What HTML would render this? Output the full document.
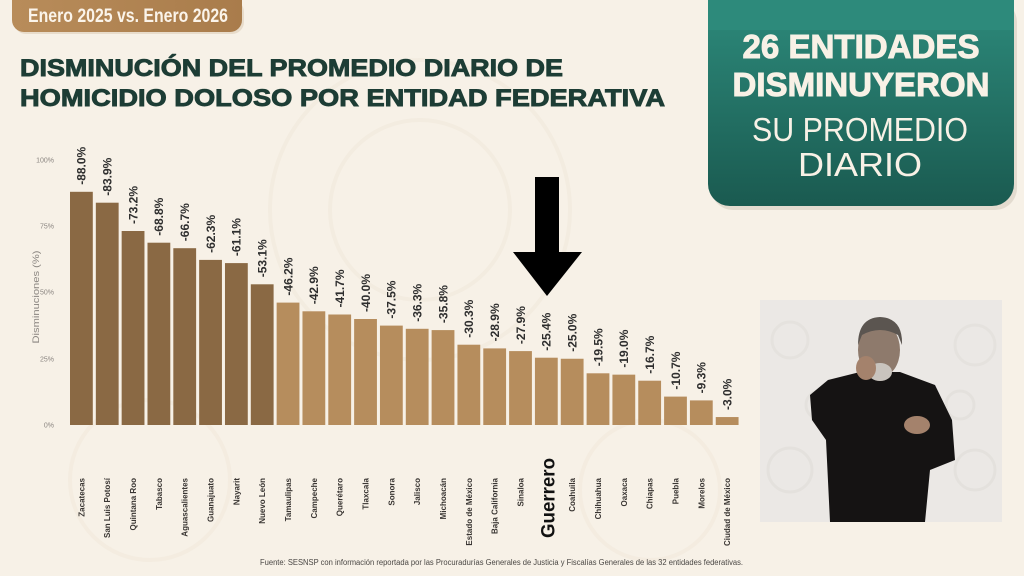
<!DOCTYPE html>
<html>
<head>
<meta charset="utf-8">
<style>
  html,body{margin:0;padding:0;background:#f7f1e7;width:1024px;height:576px;overflow:hidden;}
  svg{display:block;}
  text{font-family:"Liberation Sans",sans-serif;}
</style>
</head>
<body>
<svg width="1024" height="576" viewBox="0 0 1024 576" xmlns="http://www.w3.org/2000/svg">
  <defs>
    <linearGradient id="teal" x1="0" y1="0" x2="0" y2="1">
      <stop offset="0" stop-color="#2d8a7b"/>
      <stop offset="1" stop-color="#1a5a50"/>
    </linearGradient>
    <linearGradient id="badge" x1="0" y1="0" x2="1" y2="0">
      <stop offset="0" stop-color="#b88c5a"/>
      <stop offset="1" stop-color="#a97c4b"/>
    </linearGradient>
  </defs>
  <rect x="0" y="0" width="1024" height="576" fill="#f7f1e7"/>
  <!-- faint background swirls -->
  <g fill="none" stroke="#f1e9dc" stroke-width="4" opacity="0.6">
    <circle cx="420" cy="210" r="150"/>
    <circle cx="420" cy="210" r="90"/>
    <circle cx="150" cy="480" r="80"/>
    <circle cx="650" cy="490" r="70"/>
  </g>

  <!-- header badge -->
  <rect x="14" y="0" width="230" height="34" rx="12" fill="#d9c8b0" opacity="0.5"/>
  <rect x="12" y="0" width="230" height="32" rx="12" fill="url(#badge)"/>
  <rect x="12" y="0" width="230" height="14" fill="url(#badge)"/>
  <text x="28" y="22" font-size="19" font-weight="bold" fill="#fbf4ea" textLength="200" lengthAdjust="spacingAndGlyphs">Enero 2025 vs. Enero 2026</text>

  <!-- title -->
  <text x="20" y="76" font-size="24" font-weight="bold" fill="#1d3d35" textLength="543" lengthAdjust="spacingAndGlyphs" stroke="#1d3d35" stroke-width="0.9">DISMINUCIÓN DEL PROMEDIO DIARIO DE</text>
  <text x="20" y="106" font-size="24" font-weight="bold" fill="#1d3d35" textLength="645" lengthAdjust="spacingAndGlyphs" stroke="#1d3d35" stroke-width="0.9">HOMICIDIO DOLOSO POR ENTIDAD FEDERATIVA</text>

  <!-- teal panel -->
  <rect x="711" y="0" width="306" height="210" rx="22" fill="#cfc6b8" opacity="0.5"/>
  <rect x="708" y="0" width="306" height="206" rx="22" fill="url(#teal)"/>
  <rect x="708" y="0" width="306" height="30" fill="#2d8a7b"/>
  <g fill="#f8f1e6" text-anchor="middle">
    <text x="861" y="58" font-size="33" font-weight="bold" textLength="237" lengthAdjust="spacingAndGlyphs" stroke="#f8f1e6" stroke-width="1">26 ENTIDADES</text>
    <text x="861" y="96" font-size="33" font-weight="bold" textLength="257" lengthAdjust="spacingAndGlyphs" stroke="#f8f1e6" stroke-width="1">DISMINUYERON</text>
    <text x="860" y="141" font-size="33" textLength="216" lengthAdjust="spacingAndGlyphs">SU PROMEDIO</text>
    <text x="860" y="176" font-size="33" textLength="124" lengthAdjust="spacingAndGlyphs">DIARIO</text>
  </g>

  <!-- y axis -->
  <g font-size="7" fill="#8a8580" text-anchor="end">
    <text x="54" y="162.5">100%</text>
    <text x="54" y="228.5">75%</text>
    <text x="54" y="294.5">50%</text>
    <text x="54" y="361.5">25%</text>
    <text x="54" y="427.5">0%</text>
  </g>
  <text transform="translate(39,297) rotate(-90)" font-size="9" fill="#8a8580" text-anchor="middle" textLength="93" lengthAdjust="spacingAndGlyphs">Disminuciones (%)</text>

  <!-- bars -->
  <g fill="#8a6944">
    <rect x="70.00" y="191.8" width="22.8" height="233.2"/>
    <rect x="95.83" y="202.7" width="22.8" height="222.3"/>
    <rect x="121.66" y="231.0" width="22.8" height="194.0"/>
    <rect x="147.49" y="242.7" width="22.8" height="182.3"/>
    <rect x="173.32" y="248.2" width="22.8" height="176.8"/>
    <rect x="199.15" y="259.9" width="22.8" height="165.1"/>
    <rect x="224.98" y="263.1" width="22.8" height="161.9"/>
    <rect x="250.81" y="284.3" width="22.8" height="140.7"/>
  </g>
  <g fill="#b68d5d">
    <rect x="276.64" y="302.6" width="22.8" height="122.4"/>
    <rect x="302.47" y="311.3" width="22.8" height="113.7"/>
    <rect x="328.30" y="314.5" width="22.8" height="110.5"/>
    <rect x="354.13" y="319.0" width="22.8" height="106.0"/>
    <rect x="379.96" y="325.6" width="22.8" height="99.4"/>
    <rect x="405.79" y="328.8" width="22.8" height="96.2"/>
    <rect x="431.62" y="330.1" width="22.8" height="94.9"/>
    <rect x="457.45" y="344.7" width="22.8" height="80.3"/>
    <rect x="483.28" y="348.4" width="22.8" height="76.6"/>
    <rect x="509.11" y="351.1" width="22.8" height="73.9"/>
    <rect x="534.94" y="357.7" width="22.8" height="67.3"/>
    <rect x="560.77" y="358.75" width="22.8" height="66.25"/>
    <rect x="586.60" y="373.3" width="22.8" height="51.7"/>
    <rect x="612.43" y="374.65" width="22.8" height="50.35"/>
    <rect x="638.26" y="380.7" width="22.8" height="44.3"/>
    <rect x="664.09" y="396.6" width="22.8" height="28.4"/>
    <rect x="689.92" y="400.4" width="22.8" height="24.6"/>
    <rect x="715.75" y="417.05" width="22.8" height="7.95"/>
  </g>

  <!-- value labels -->
  <g font-size="12" font-weight="bold" fill="#2e2e2e">
    <text transform="translate(85.7,184.8) rotate(-90)">-88.0%</text>
    <text transform="translate(111.5,195.7) rotate(-90)">-83.9%</text>
    <text transform="translate(137.4,224.0) rotate(-90)">-73.2%</text>
    <text transform="translate(163.2,235.7) rotate(-90)">-68.8%</text>
    <text transform="translate(189.0,241.2) rotate(-90)">-66.7%</text>
    <text transform="translate(214.9,252.9) rotate(-90)">-62.3%</text>
    <text transform="translate(240.7,256.1) rotate(-90)">-61.1%</text>
    <text transform="translate(266.5,277.3) rotate(-90)">-53.1%</text>
    <text transform="translate(292.3,295.6) rotate(-90)">-46.2%</text>
    <text transform="translate(318.2,304.3) rotate(-90)">-42.9%</text>
    <text transform="translate(344.0,307.5) rotate(-90)">-41.7%</text>
    <text transform="translate(369.8,312.0) rotate(-90)">-40.0%</text>
    <text transform="translate(395.7,318.6) rotate(-90)">-37.5%</text>
    <text transform="translate(421.5,321.8) rotate(-90)">-36.3%</text>
    <text transform="translate(447.3,323.1) rotate(-90)">-35.8%</text>
    <text transform="translate(473.2,337.7) rotate(-90)">-30.3%</text>
    <text transform="translate(499.0,341.4) rotate(-90)">-28.9%</text>
    <text transform="translate(524.8,344.1) rotate(-90)">-27.9%</text>
    <text transform="translate(550.6,350.7) rotate(-90)">-25.4%</text>
    <text transform="translate(576.5,351.75) rotate(-90)">-25.0%</text>
    <text transform="translate(602.3,366.3) rotate(-90)">-19.5%</text>
    <text transform="translate(628.1,367.65) rotate(-90)">-19.0%</text>
    <text transform="translate(654.0,373.7) rotate(-90)">-16.7%</text>
    <text transform="translate(679.8,389.6) rotate(-90)">-10.7%</text>
    <text transform="translate(705.6,393.4) rotate(-90)">-9.3%</text>
    <text transform="translate(731.5,410.05) rotate(-90)">-3.0%</text>
  </g>

  <!-- category labels -->
  <g font-size="8" font-weight="bold" fill="#3a3633" text-anchor="end">
    <text transform="translate(84.4,478) rotate(-90)">Zacatecas</text>
    <text transform="translate(110.2,478) rotate(-90)">San Luis Potosí</text>
    <text transform="translate(136.1,478) rotate(-90)">Quintana Roo</text>
    <text transform="translate(161.9,478) rotate(-90)">Tabasco</text>
    <text transform="translate(187.7,478) rotate(-90)">Aguascalientes</text>
    <text transform="translate(213.6,478) rotate(-90)">Guanajuato</text>
    <text transform="translate(239.4,478) rotate(-90)">Nayarit</text>
    <text transform="translate(265.2,478) rotate(-90)">Nuevo León</text>
    <text transform="translate(291.0,478) rotate(-90)">Tamaulipas</text>
    <text transform="translate(316.9,478) rotate(-90)">Campeche</text>
    <text transform="translate(342.7,478) rotate(-90)">Querétaro</text>
    <text transform="translate(368.5,478) rotate(-90)">Tlaxcala</text>
    <text transform="translate(394.4,478) rotate(-90)">Sonora</text>
    <text transform="translate(420.2,478) rotate(-90)">Jalisco</text>
    <text transform="translate(446.0,478) rotate(-90)">Michoacán</text>
    <text transform="translate(471.9,478) rotate(-90)">Estado de México</text>
    <text transform="translate(497.7,478) rotate(-90)">Baja California</text>
    <text transform="translate(523.5,478) rotate(-90)">Sinaloa</text>
    <text transform="translate(575.2,478) rotate(-90)">Coahuila</text>
    <text transform="translate(601.0,478) rotate(-90)">Chihuahua</text>
    <text transform="translate(626.8,478) rotate(-90)">Oaxaca</text>
    <text transform="translate(652.7,478) rotate(-90)">Chiapas</text>
    <text transform="translate(678.5,478) rotate(-90)">Puebla</text>
    <text transform="translate(704.3,478) rotate(-90)">Morelos</text>
    <text transform="translate(730.2,478) rotate(-90)">Ciudad de México</text>
  </g>
  <text transform="translate(554.5,538) rotate(-90)" font-size="19" font-weight="bold" fill="#111" textLength="80" lengthAdjust="spacingAndGlyphs">Guerrero</text>

  <!-- arrow -->
  <polygon points="535,177 559,177 559,252 582,252 547,296 513,252 535,252" fill="#000"/>

  <!-- footer -->
  <text x="260" y="565" font-size="8" fill="#4a4744" textLength="483" lengthAdjust="spacingAndGlyphs">Fuente: SESNSP con información reportada por las Procuradurías Generales de Justicia y Fiscalías Generales de las 32 entidades federativas.</text>

  <!-- video inset -->
  <rect x="760" y="300" width="242" height="222" fill="#ebe8e5"/>
  <g fill="none" stroke="#e2dfdb" stroke-width="3" opacity="0.7">
    <circle cx="790" cy="340" r="18"/>
    <circle cx="975" cy="345" r="20"/>
    <circle cx="790" cy="470" r="22"/>
    <circle cx="975" cy="470" r="20"/>
    <circle cx="820" cy="405" r="14"/>
    <circle cx="960" cy="405" r="14"/>
  </g>
  <!-- person -->
  <path d="M830,522 L826,440 L812,420 L810,395 L828,380 L860,372 L900,372 L935,385 L952,420 L955,460 L930,470 L925,522 Z" fill="#151313"/>
  <ellipse cx="879" cy="350" rx="21" ry="28" fill="#8e7a6c"/>
  <path d="M858,345 Q858,318 880,317 Q903,318 902,345 L898,335 Q880,325 862,335 Z" fill="#5b5550"/>
  <ellipse cx="880" cy="372" rx="12" ry="9" fill="#c9c4be"/>
  <ellipse cx="866" cy="368" rx="10" ry="12" fill="#a4826c"/>
  <ellipse cx="917" cy="425" rx="13" ry="9" fill="#a4826c"/>
</svg>
</body>
</html>
